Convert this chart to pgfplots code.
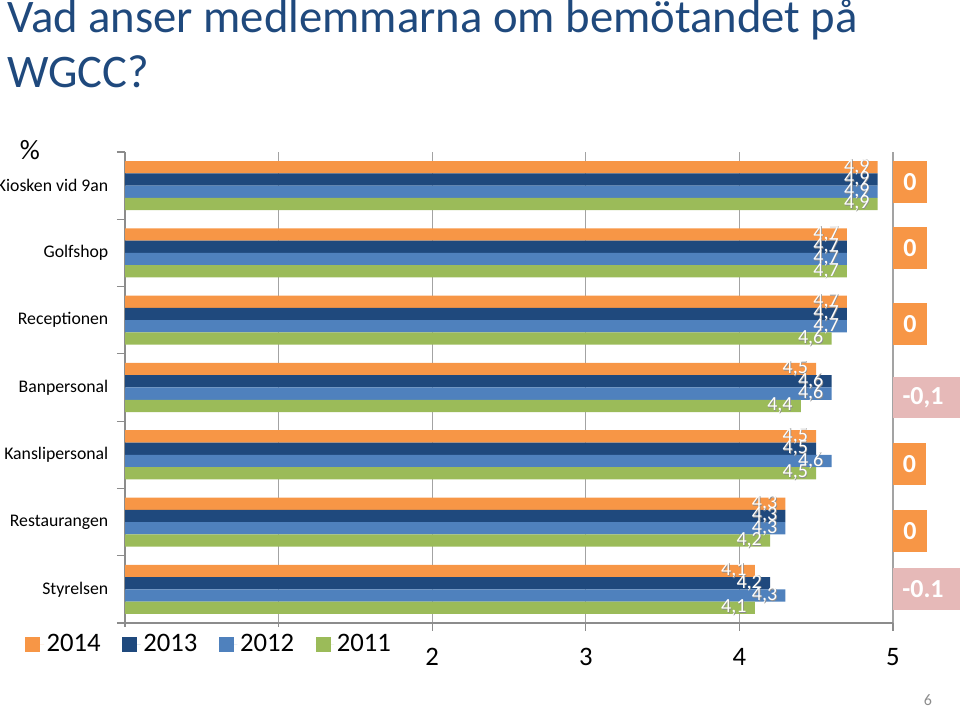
\documentclass[border=0pt]{standalone}
\usepackage{fontspec}
\setmainfont{Carlito}
\usepackage{pgfplots}
\pgfplotsset{compat=1.18}
\definecolor{c14}{HTML}{F79646}
\definecolor{c13}{HTML}{1F497D}
\definecolor{c12}{HTML}{4F81BD}
\definecolor{c11}{HTML}{9BBB59}
\definecolor{pinkbox}{HTML}{E6B9B8}
\definecolor{titleblue}{HTML}{1F497D}
\definecolor{axgray}{HTML}{8C8C8C}
\newcommand\hl[1]{\makebox[0pt][l]{\raisebox{-0.5pt}{\hspace*{0.5pt}\textcolor{black!45}{#1}}}\textcolor{white}{#1}}
\begin{document}
\begin{tikzpicture}
\begin{scope}[x=0.75pt,y=0.75pt]
\node[anchor=base west, text=titleblue, font=\fontsize{35}{35}\selectfont, inner sep=0pt] at (7,677) {Vad anser medlemmarna om bemötandet på};
\node[anchor=base west, text=titleblue, font=\fontsize{35}{35}\selectfont, inner sep=0pt] at (7,622) {WGCC?};
\node[font=\fontsize{21}{21}\selectfont, inner sep=0pt] at (30,560) {\%};
\end{scope}
\begin{axis}[
  at={(93.75pt,65.25pt)}, anchor=south west,
  scale only axis, width=576pt, height=353.25pt,
  xbar, bar width=9.2pt,
  xmin=0, xmax=5, ymin=-0.5, ymax=6.5,
  axis x line*=bottom, axis y line*=left,
  axis line style={draw=axgray, line width=0.8pt, -},
  every outer x axis line/.append style={-},
  every outer y axis line/.append style={-},
  tick style={draw=axgray, line width=0.8pt},
  tick align=outside, major tick length=6pt,
  xtick={0,...,5}, xticklabels={,,2,3,4,5},
  xticklabel style={font=\fontsize{20}{20}\selectfont, anchor=base, yshift=-26pt},
  xmajorgrids, grid style={draw=axgray!80, line width=0.8pt},
  ytick={-0.5,0.5,...,6.5}, yticklabels={,,,,,,,,},
  extra y ticks={0,...,6},
  extra y tick labels={Styrelsen,Restaurangen,Kanslipersonal,Banpersonal,Receptionen,Golfshop,Kiosken vid 9an},
  extra y tick style={tick style={draw=none}, grid=none, yticklabel style={font=\fontsize{13.3}{13.3}\selectfont, xshift=-3pt}},
  /pgf/number format/assume math mode=true,
  point meta=x,
  nodes near coords={\hl{\pgfmathprintnumber[fixed,fixed zerofill,precision=1,use comma]{\pgfplotspointmeta}}},
  every node near coord/.append style={anchor=east, xshift=-6pt, inner sep=0pt, font=\fontsize{15}{15}\selectfont},
  legend columns=4,
  legend image code/.code={\fill[#1,draw=none] (0pt,-5.6pt) rectangle (11.25pt,5.6pt); \path (0pt,0pt) -- (14pt,0pt);},
  legend style={draw=none, fill=white, font=\fontsize{20}{20}\selectfont,
    at={(axis description cs:0.11,-0.045)}, anchor=center, inner ysep=4pt,
    /tikz/every even column/.append style={column sep=14pt}},
]
\addplot[fill=c14, draw=none, bar shift=13.8pt] coordinates {(4.1,0) (4.3,1) (4.5,2) (4.5,3) (4.7,4) (4.7,5) (4.9,6)};
\addplot[fill=c13, draw=none, bar shift=4.6pt] coordinates {(4.2,0) (4.3,1) (4.5,2) (4.6,3) (4.7,4) (4.7,5) (4.9,6)};
\addplot[fill=c12, draw=none, bar shift=-4.6pt] coordinates {(4.3,0) (4.3,1) (4.6,2) (4.6,3) (4.7,4) (4.7,5) (4.9,6)};
\addplot[fill=c11, draw=none, bar shift=-13.8pt] coordinates {(4.1,0) (4.2,1) (4.5,2) (4.4,3) (4.6,4) (4.7,5) (4.9,6)};
\legend{2014,2013,2012,2011}
\end{axis}
\begin{scope}[x=0.75pt,y=0.75pt]
\tikzset{btxt/.style={text=white, font=\bfseries\fontsize{19.5}{19.5}\selectfont, inner sep=0pt}}
\fill[c14] (893,507) rectangle (927,549); \node[btxt] at (910,528) {0};
\fill[c14] (893,441) rectangle (927,483); \node[btxt] at (910,462) {0};
\fill[c14] (893,365) rectangle (927,407); \node[btxt] at (910,386) {0};
\fill[pinkbox] (893,292) rectangle (960,333); \node[btxt] at (923,312.5) {-0,1};
\fill[c14] (893,225) rectangle (926,267); \node[btxt] at (909.5,246) {0};
\fill[c14] (893,158) rectangle (927,200); \node[btxt] at (910,179) {0};
\fill[pinkbox] (893,100) rectangle (960,142); \node[btxt] at (923,121) {-0.1};
\node[text=axgray, font=\fontsize{12}{12}\selectfont, inner sep=0pt] at (928,10) {6};
\end{scope}
\pgfresetboundingbox
\path[use as bounding box] (0pt,0pt) rectangle (720pt,532.5pt);
\end{tikzpicture}
\end{document}
